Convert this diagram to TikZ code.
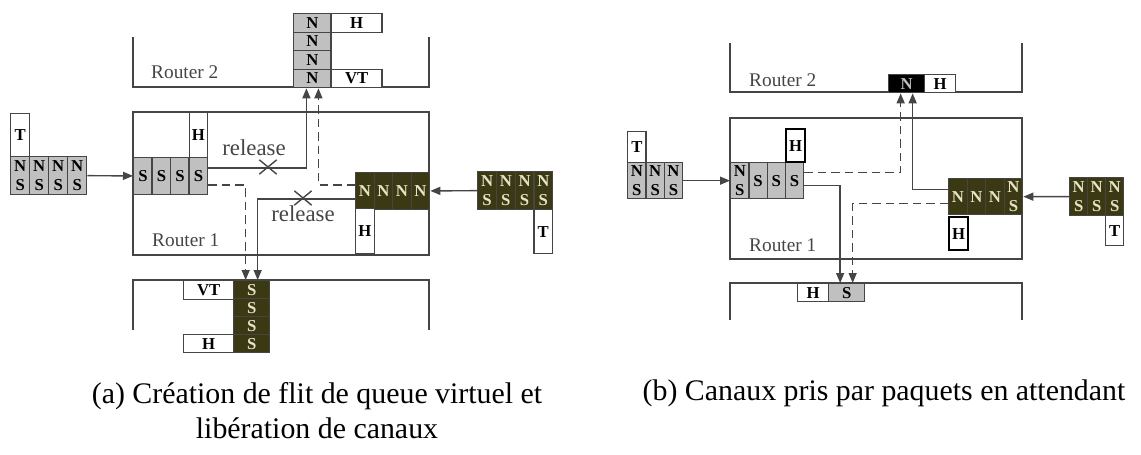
\documentclass[tikz,border=0pt]{standalone}
\usepackage{fontspec}
\setmainfont{Liberation Serif}
\usetikzlibrary{positioning}
\usetikzlibrary{calc}
\usetikzlibrary{arrows.meta}
\usetikzlibrary{shapes.misc}

\definecolor{linegray}{HTML}{454545}
\definecolor{flitgray}{HTML}{C0C0C0}
\definecolor{flitdark}{HTML}{3A3914}
\definecolor{flittext}{HTML}{E6E2C6}
\newcommand{\flitfont}{\bfseries\fontsize{9.5}{10.3}\selectfont}

\begin{document}
\begin{tikzpicture}[x=0.02cm, y=-0.02cm,
		box/.style={draw=linegray, line width=0.75pt, inner sep=0pt, anchor=north west, font=\flitfont},
		hflit/.style={box, minimum width=0.37cm, minimum height=0.73cm, align=center},
		vflit/.style={box, minimum width=0.75cm, minimum height=0.37cm},
		light/.style={fill=flitgray},
		dark/.style={fill=flitdark, text=flittext},
		tag/.style={box, fill=white},
		boldtag/.style={tag, draw=black, line width=1.3pt},
		wall/.style={draw=linegray, line width=0.9pt},
		link/.style={draw=linegray, line width=0.8pt, -{Triangle[length=0.2cm, width=0.16cm]}},
		dlink/.style={link, dash pattern=on 0.17cm off 0.1cm},
		cut/.style={cross out, draw=linegray, line width=0.8pt, minimum width=0.32cm, minimum height=0.26cm, inner sep=0pt},
		rname/.style={anchor=west, text=linegray, font=\fontsize{11}{13}\selectfont},
		note/.style={text=linegray, font=\fontsize{13}{15}\selectfont},
		caption/.style={font=\fontsize{17}{20}\selectfont, align=center}]
		\useasboundingbox (0,0) rectangle (1141,454);
		
		% (a) router 2
		\draw[wall] (133,37) -- (133,87) -- (429,87) -- (429,37);
		\node at (145,72) [rname] (r2aname) {Router 2};
		\foreach \i in {1,...,4}
			\node at (293,{13+18.5*(\i-1)}) [vflit, light] (nA\i) {N};
		\node at (330.5,13) [tag, minimum width=1.02cm, minimum height=0.37cm] (hA2) {H};
		\node at (330.5,68.5) [tag, minimum width=1.02cm, minimum height=0.37cm] (vtA2) {VT};
		
		% (a) router 1
		\draw[wall] (133,112) rectangle (429,255);
		\node at (146,240) [rname] (r1aname) {Router 1};
		\foreach \i in {1,...,4}
			\node at ({133+18.5*(\i-1)},157) [hflit, light] (sA\i) {S};
		\node at (188.5,112) [tag, minimum width=0.37cm, minimum height=0.9cm] (hA1) {H};
		\foreach \i in {1,...,4}
			\node at ({355+18.5*(\i-1)},172) [hflit, dark] (dA\i) {N};
		\node at (355,208) [tag, minimum width=0.37cm, minimum height=0.9cm] (hA3) {H};
		
		% (a) packets outside
		\node at (10,113) [tag, minimum width=0.38cm, minimum height=0.86cm] (tA1) {T};
		\foreach \i in {1,...,4}
			\node at ({10+19*(\i-1)},156) [hflit, light, minimum width=0.38cm, minimum height=0.76cm] (lpA\i) {N\\S};
		\foreach \i in {1,...,4}
			\node at ({477+18.75*(\i-1)},171) [hflit, dark, minimum width=0.375cm, minimum height=0.76cm] (rpA\i) {N\\S};
		\node at (533.25,209) [tag, minimum width=0.375cm, minimum height=0.88cm] (tA2) {T};
		
		% (a) lower router
		\draw[wall] (133,330) -- (133,280) -- (429,280) -- (429,330);
		\foreach \i in {1,...,4}
			\node at (233,{280+18*(\i-1)}) [vflit, dark, minimum width=0.72cm, minimum height=0.36cm] (dsA\i) {S};
		\node at (183,280) [tag, minimum width=1.0cm, minimum height=0.38cm] (vtA1) {VT};
		\node at (183,334) [tag, minimum width=1.0cm, minimum height=0.36cm] (hA4) {H};
		
		% (a) links
		\draw[link] (lpA4.east) -- (sA1.west);
		\draw[link] (rpA1.west) -- (dA4.east);
		\draw[link] ([yshift=0.16cm]sA4.east) -| ([xshift=-0.12cm]nA4.south);
		\draw[dlink] ([yshift=-0.18cm]sA4.east) -| ([xshift=-0.12cm]dsA1.north);
		\draw[dlink] ([yshift=0.12cm]dA1.west) -| ([xshift=0.12cm]nA4.south);
		\draw[link] ([yshift=-0.16cm]dA1.west) -| ([xshift=0.12cm]dsA1.north);
		\node at (268,167) [cut] (xA1) {};
		\node at (303,198) [cut] (xA2) {};
		\node at (254,148) [note] (relA1) {release};
		\node at (303,214) [note] (relA2) {release};
		
		\node at (317,410.5) [caption] (capA) {(a) Création de flit de queue virtuel et\\libération de canaux};
		
		% (b) router 2
		\draw[wall] (730,43) -- (730,92) -- (1022,92) -- (1022,43);
		\node at (743,80) [rname] (r2bname) {Router 2};
		\node at (888,74) [vflit, fill=black, text=flitgray, minimum width=0.72cm, minimum height=0.36cm] (nB) {N};
		\node at (924,74) [tag, minimum width=0.62cm, minimum height=0.36cm] (hB1) {H};
		
		% (b) router 1
		\draw[wall] (730,118) rectangle (1022,259);
		\node at (743,245) [rname] (r1bname) {Router 1};
		\foreach \i/\lbl in {1/{N\\S},2/S,3/S,4/S}
			\node at ({730+18.25*(\i-1)},162) [hflit, light, minimum width=0.365cm, minimum height=0.72cm] (sB\i) {\lbl};
		\node at (785,128) [boldtag, minimum width=0.38cm, minimum height=0.66cm] (hB2) {H};
		\foreach \i/\lbl in {1/N,2/N,3/N,4/{N\\S}}
			\node at ({948+18.5*(\i-1)},178) [hflit, dark, minimum height=0.72cm] (dB\i) {\lbl};
		\node at (948,216) [boldtag, minimum width=0.38cm, minimum height=0.66cm] (hB3) {H};
		
		% (b) packets outside
		\node at (627,131) [tag, minimum width=0.367cm, minimum height=0.62cm] (tB1) {T};
		\foreach \i in {1,...,3}
			\node at ({627+18.33*(\i-1)},162) [hflit, light, minimum width=0.367cm, minimum height=0.72cm] (lpB\i) {N\\S};
		\foreach \i in {1,...,3}
			\node at ({1069+18*(\i-1)},177) [hflit, dark, minimum width=0.36cm, minimum height=0.76cm] (rpB\i) {N\\S};
		\node at (1105,215) [tag, minimum width=0.36cm, minimum height=0.6cm] (tB2) {T};
		
		% (b) lower router
		\draw[wall] (730,320) -- (730,283) -- (1022,283) -- (1022,320);
		\node at (828,283) [vflit, light, minimum width=0.72cm, minimum height=0.36cm] (sB) {S};
		\node at (797,283) [tag, minimum width=0.62cm, minimum height=0.36cm] (hB4) {H};
		
		% (b) links
		\draw[link] (lpB3.east) -- (sB1.west);
		\draw[link] (rpB1.west) -- (dB4.east);
		\draw[dlink] ([yshift=0.16cm]sB4.east) -| ([xshift=-0.12cm]nB.south);
		\draw[link] ([yshift=-0.1cm]sB4.east) -| ([xshift=-0.13cm]sB.north);
		\draw[link] ([yshift=0.14cm]dB1.west) -| ([xshift=0.12cm]nB.south);
		\draw[dlink] ([yshift=-0.14cm]dB1.west) -| ([xshift=0.12cm]sB.north);
		
		\node at (884,393) [caption] (capB) {(b) Canaux pris par paquets en attendant};
		
\end{tikzpicture}
\end{document}
